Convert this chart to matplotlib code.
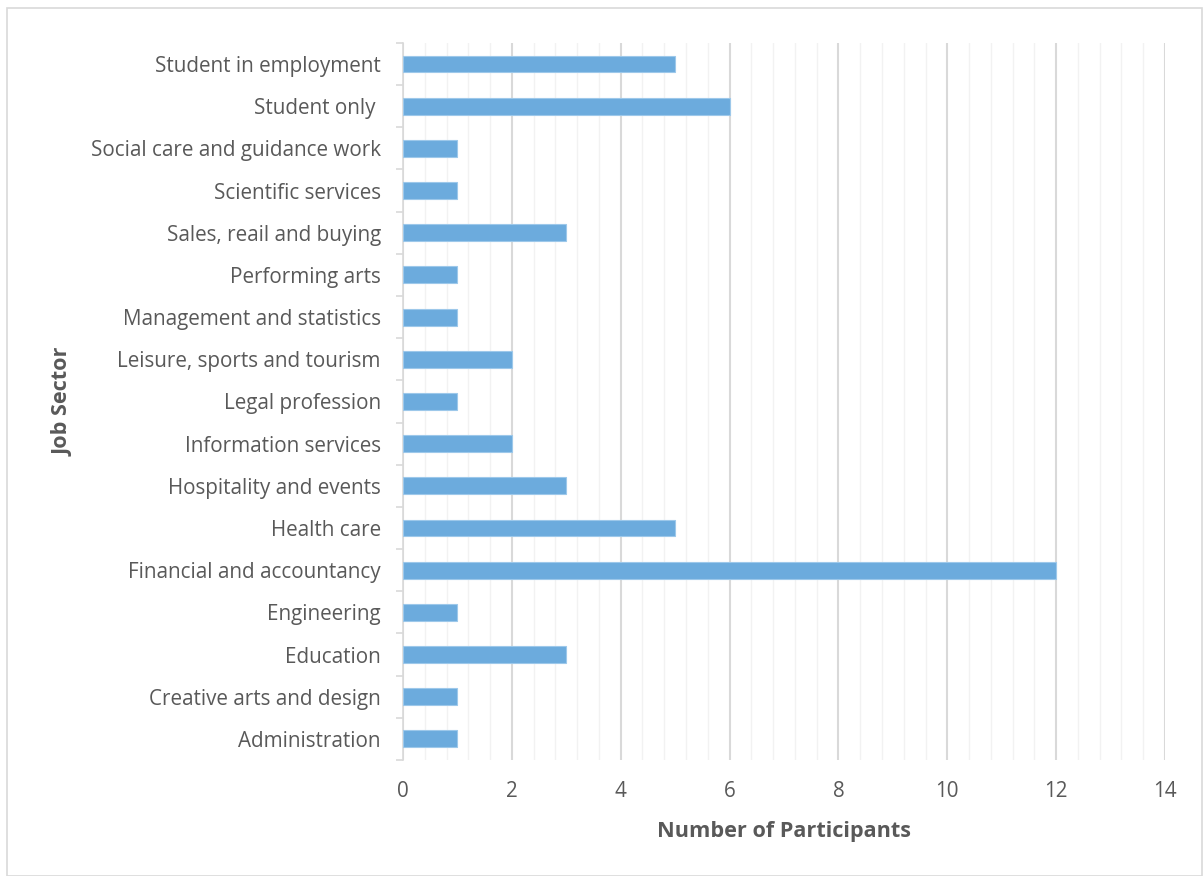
import matplotlib
matplotlib.use("Agg")
import matplotlib.pyplot as plt
from matplotlib.ticker import MultipleLocator, FixedLocator
import numpy as np

plt.rcParams['font.family'] = ['Open Sans', 'DejaVu Sans']

categories = [
    "Administration",
    "Creative arts and design",
    "Education",
    "Engineering",
    "Financial and accountancy",
    "Health care",
    "Hospitality and events",
    "Information services",
    "Legal profession",
    "Leisure, sports and tourism",
    "Management and statistics",
    "Performing arts",
    "Sales, reail and buying",
    "Scientific services",
    "Social care and guidance work",
    "Student only ",
    "Student in employment",
]
values = [1, 1, 3, 1, 12, 5, 3, 2, 1, 2, 1, 1, 3, 1, 1, 6, 5]
x_ticks = [0, 2, 4, 6, 8, 10, 12, 14]

fig = plt.figure(figsize=(12.04, 8.76), dpi=100)
ax = fig.add_axes([0.3347, 0.1324, 0.6329, 0.8186])

# figure border
fig.patches.append(plt.Rectangle((0.006, 0.0), 0.992, 0.991, transform=fig.transFigure,
                                 fill=False, edgecolor='#D9D9D9', linewidth=1.2))

y = np.arange(len(categories))
ax.barh(y, values, height=0.4, color='#6CABDD', edgecolor='#9DC8EA', linewidth=0.8, zorder=3)

ax.set_xlim(0, 14)
ax.set_ylim(-0.5, len(categories) - 0.5)
ax.xaxis.set_major_locator(FixedLocator(x_ticks))
ax.xaxis.set_minor_locator(MultipleLocator(0.4))
ax.grid(axis='x', which='major', color='#D9D9D9', linewidth=1.5, zorder=0)
ax.grid(axis='x', which='minor', color='#F2F2F2', linewidth=1.0, zorder=0)
ax.set_axisbelow(True)

ax.set_yticks(y)
ax.set_yticklabels(categories)
ax.yaxis.set_minor_locator(FixedLocator(np.arange(-0.5, len(categories), 1.0)))
ax.tick_params(axis='y', which='major', length=0, pad=16, labelsize=14.9, labelcolor='#595959')
ax.tick_params(axis='y', which='minor', length=5, color='#D9D9D9', width=1.2)
ax.tick_params(axis='x', which='both', length=0, pad=15, labelsize=14.9, labelcolor='#595959')
ax.set_xticklabels([str(t) for t in x_ticks])

for s in ['top', 'right', 'bottom']:
    ax.spines[s].set_visible(False)
ax.spines['left'].set_color('#D9D9D9')
ax.spines['left'].set_linewidth(1.2)

ax.set_xlabel("Number of Participants", fontsize=15.6, fontweight='bold', color='#595959', labelpad=14)
fig.text(0.052, 0.541, "Job Sector", rotation=90, fontsize=15.6, fontweight='bold',
         color='#595959', ha='center', va='center')

fig.savefig("out.png", dpi=100)
